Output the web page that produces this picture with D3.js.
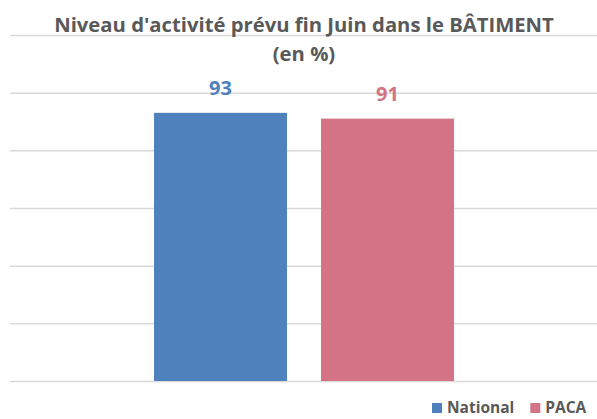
<!DOCTYPE html>
<html>
<head>
<meta charset="utf-8">
<script src="https://cdn.jsdelivr.net/npm/d3@7"></script>
<style>
  html, body { margin: 0; padding: 0; background: #fff; overflow: hidden; }
  svg { display: block; font-family: "Open Sans", sans-serif; }
</style>
</head>
<body>
<div id="chart"></div>
<script>
const categories = ['Fin Juin'];
const seriesNames = ['National', 'PACA'];
const seriesValues = [93, 91];
const yTicks = [0, 20, 40, 60, 80, 100, 120];
const titleLines = ["Niveau d'activité prévu fin Juin dans le BÂTIMENT", '(en %)'];

const colors = { National: '#4F81BD', PACA: '#D37383' };

const W = 597, H = 419;
const margin = { top: 35, right: -1, bottom: 38, left: 10 };
const width = W - margin.left - margin.right;
const height = H - margin.top - margin.bottom;

const svg = d3.select('#chart').append('svg')
    .attr('width', W)
    .attr('height', H);

const g = svg.append('g')
    .attr('transform', `translate(${margin.left},${margin.top})`);

const yScale = d3.scaleLinear()
    .domain([0, 120])
    .range([height, 0]);

const xScale = d3.scaleBand()
    .domain(categories)
    .range([0, width]);

// two bars with a gap, centred in the category
const clusterW = 300;
const xSeries = d3.scaleBand()
    .domain(seriesNames)
    .range([(xScale.bandwidth() - clusterW) / 2, (xScale.bandwidth() + clusterW) / 2])
    .paddingInner(0.204);

// gridlines
g.append('g')
    .call(d3.axisLeft(yScale).tickValues(yTicks).tickSize(-width).tickFormat(''))
    .call(a => a.select('.domain').remove())
    .selectAll('line')
        .attr('stroke', '#d9d9d9')
        .attr('stroke-width', 1.5);

const data = seriesNames.map((s, i) => ({ name: s, value: seriesValues[i], cat: categories[0] }));

g.selectAll('rect.bar')
    .data(data)
    .join('rect')
        .attr('class', 'bar')
        .attr('x', d => xScale(d.cat) + xSeries(d.name))
        .attr('y', d => yScale(d.value))
        .attr('width', xSeries.bandwidth())
        .attr('height', d => height - yScale(d.value))
        .attr('fill', d => colors[d.name]);

g.selectAll('text.val')
    .data(data)
    .join('text')
        .attr('class', 'val')
        .attr('x', d => xScale(d.cat) + xSeries(d.name) + xSeries.bandwidth() / 2)
        .attr('y', d => yScale(d.value) - 18)
        .attr('text-anchor', 'middle')
        .attr('font-size', 20)
        .attr('font-weight', 'bold')
        .attr('fill', d => colors[d.name])
        .text(d => d.value);

// title, sized so the first line spans about 500px
const title = svg.append('text')
    .attr('text-anchor', 'middle')
    .attr('font-weight', 'bold')
    .attr('fill', '#595959')
    .attr('font-size', 18);
title.selectAll('tspan')
    .data(titleLines)
    .join('tspan')
        .attr('x', 304)
        .attr('y', (d, i) => i === 0 ? 32 : 61)
        .text(d => d);
const len = title.select('tspan').node().getComputedTextLength();
title.attr('font-size', 18 * 500 / len);

// legend (kept just inside the bottom-right corner)
const legend = svg.append('g').attr('transform', 'translate(432,413)');
let lx = 0;
seriesNames.forEach(s => {
    const item = legend.append('g').attr('transform', `translate(${lx},0)`);
    item.append('rect')
        .attr('x', 0).attr('y', -10)
        .attr('width', 10).attr('height', 10)
        .attr('fill', colors[s]);
    const t = item.append('text')
        .attr('x', 15).attr('y', 0)
        .attr('font-size', 15.5)
        .attr('font-weight', 'bold')
        .attr('fill', '#595959')
        .text(s);
    lx += 15 + t.node().getComputedTextLength() + 16;
});
</script>
</body>
</html>
